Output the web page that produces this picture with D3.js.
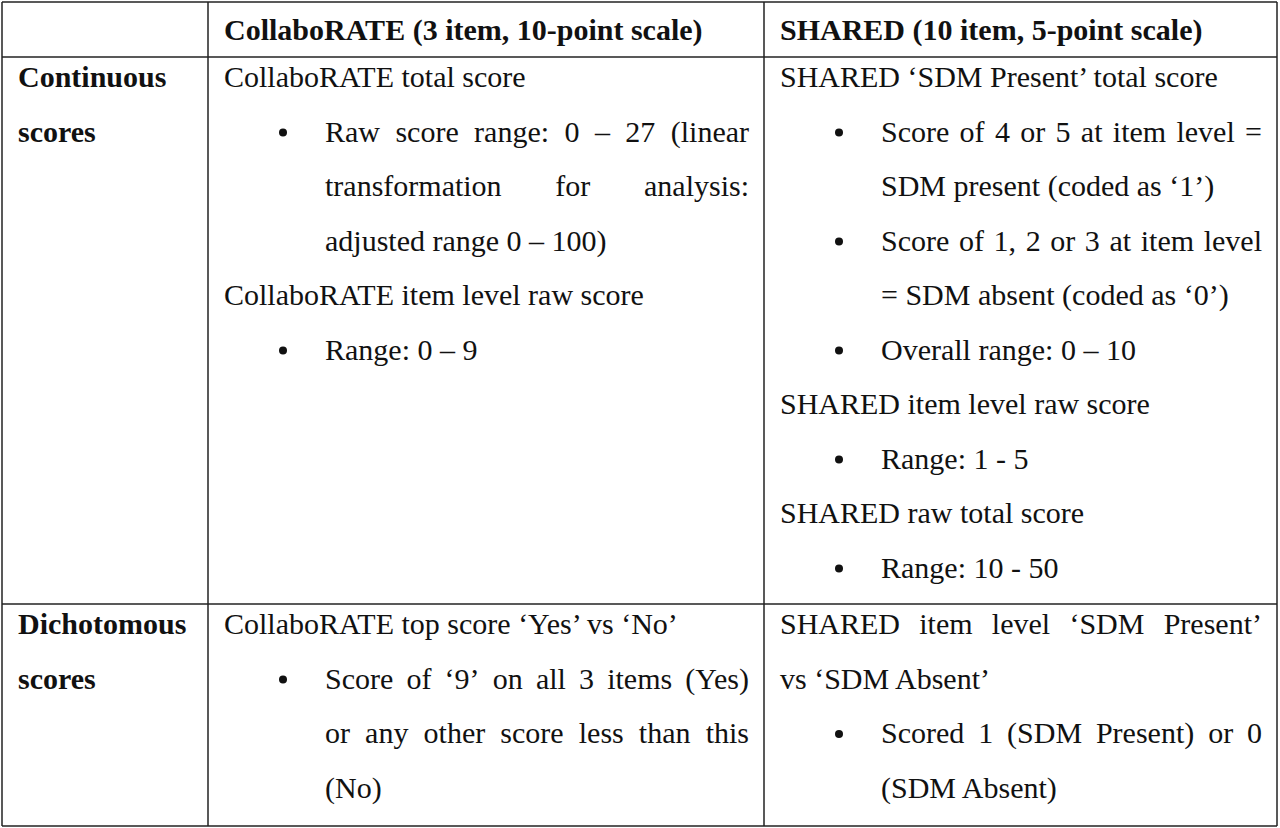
<!DOCTYPE html>
<html>
<head>
<meta charset="utf-8">
<script src="https://cdn.jsdelivr.net/npm/d3@7"></script>
<style>
  body { margin: 0; background: #fff; }
  text { font-family: "Liberation Serif", "DejaVu Serif", serif; font-size: 30px; fill: #111; }
</style>
</head>
<body>
<svg id="chart" width="1280" height="828"></svg>
<script>
// Column and row layout of the table
var colEdges = [2, 208, 764, 1277];
var rowEdges = [2, 57, 604, 826];

// Header texts
var headers = ["", "CollaboRATE (3 item, 10-point scale)", "SHARED (10 item, 5-point scale)"];

// Row labels
var rowLabels = [["Continuous", "scores"], ["Dichotomous", "scores"]];

// Cell lines: [text, bullet?, indented?, justified?]
var cont1 = [
  ["CollaboRATE total score", 0, 0, 0],
  ["Raw score range: 0 – 27 (linear", 1, 1, 1],
  ["transformation for analysis:", 0, 1, 1],
  ["adjusted range 0 – 100)", 0, 1, 0],
  ["CollaboRATE item level raw score", 0, 0, 0],
  ["Range: 0 – 9", 1, 1, 0]
];
var cont2 = [
  ["SHARED ‘SDM Present’ total score", 0, 0, 0],
  ["Score of 4 or 5 at item level =", 1, 1, 1],
  ["SDM present (coded as ‘1’)", 0, 1, 0],
  ["Score of 1, 2 or 3 at item level", 1, 1, 1],
  ["= SDM absent (coded as ‘0’)", 0, 1, 0],
  ["Overall range: 0 – 10", 1, 1, 0],
  ["SHARED item level raw score", 0, 0, 0],
  ["Range: 1 - 5", 1, 1, 0],
  ["SHARED raw total score", 0, 0, 0],
  ["Range: 10 - 50", 1, 1, 0]
];
var dich1 = [
  ["CollaboRATE top score ‘Yes’ vs ‘No’", 0, 0, 0],
  ["Score of ‘9’ on all 3 items (Yes)", 1, 1, 1],
  ["or any other score less than this", 0, 1, 1],
  ["(No)", 0, 1, 0]
];
var dich2 = [
  ["SHARED item level ‘SDM Present’", 0, 0, 1],
  ["vs ‘SDM Absent’", 0, 0, 0],
  ["Scored 1 (SDM Present) or 0", 1, 1, 1],
  ["(SDM Absent)", 0, 1, 0]
];

var svg = d3.select("#chart");
var lineH = 54.5;
var pad = 16;

// grid lines
colEdges.forEach(function (x) {
  svg.append("line").attr("x1", x).attr("x2", x).attr("y1", rowEdges[0]).attr("y2", rowEdges[3])
    .attr("stroke", "#222").attr("stroke-width", 1.5);
});
rowEdges.forEach(function (y) {
  svg.append("line").attr("x1", colEdges[0]).attr("x2", colEdges[3]).attr("y1", y).attr("y2", y)
    .attr("stroke", "#222").attr("stroke-width", 1.5);
});

// headers
headers.forEach(function (h, i) {
  svg.append("text").attr("x", colEdges[i] + pad).attr("y", 40)
    .attr("font-weight", "bold").text(h);
});

// row labels
rowLabels.forEach(function (lab, r) {
  lab.forEach(function (t, k) {
    svg.append("text").attr("x", colEdges[0] + pad).attr("y", rowEdges[r + 1] + 30 + k * lineH)
      .attr("font-weight", "bold").text(t);
  });
});

function drawCell(lines, col, row) {
  var left = colEdges[col] + pad;
  var right = colEdges[col + 1] - 15;
  var indent = 101;
  lines.forEach(function (l, k) {
    var y = rowEdges[row] + 30 + k * lineH;
    var x0 = left + (l[2] ? indent : 0);
    if (l[1]) {
      svg.append("circle").attr("cx", left + 59).attr("cy", y - 9).attr("r", 4).attr("fill", "#111");
    }
    if (!l[3]) {
      svg.append("text").attr("x", x0).attr("y", y).text(l[0]);
      return;
    }
    // justified: spread words across the cell width
    var words = l[0].split(" ");
    var nodes = words.map(function (w) {
      return svg.append("text").attr("y", y).text(w);
    });
    var widths = nodes.map(function (n) { return n.node().getComputedTextLength(); });
    var gap = (right - x0 - d3.sum(widths)) / (words.length - 1);
    var x = x0;
    nodes.forEach(function (n, i) { n.attr("x", x); x += widths[i] + gap; });
  });
}

drawCell(cont1, 1, 1);
drawCell(cont2, 2, 1);
drawCell(dich1, 1, 2);
drawCell(dich2, 2, 2);
</script>
</body>
</html>
